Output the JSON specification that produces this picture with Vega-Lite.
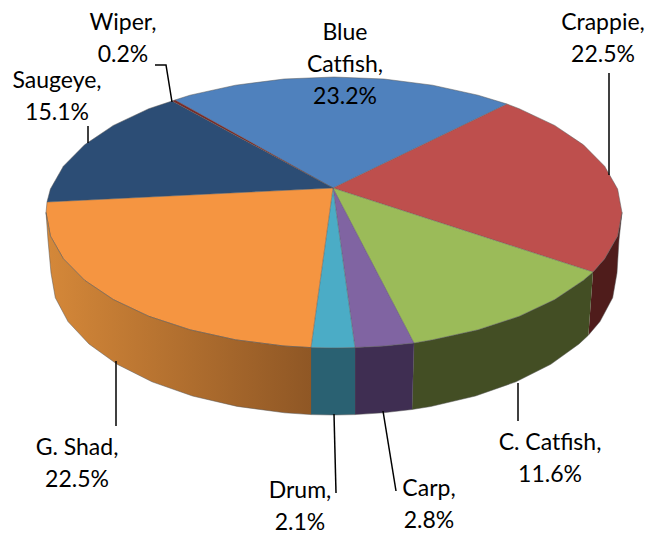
{
"$schema":"https://vega.github.io/schema/vega-lite/v6.json",
"width":652,"height":534,"padding":0,"autosize":{"type":"none"},
"background":"white",
"view":{"stroke":null},
"datasets":{
"shapes":[
{"part":"Crappie side","face":"side","x":[593,604.6,617.6,622,619,617,612.7,600,588.4],"y":[272,258.8,236,212.5,240,273,297.7,321.6,335.2]},
{"part":"C. Catfish side","face":"side","x":[593,583.4,554.6,519.2,478,432.5,414,412,430.8,475.5,516,550.8,579,588.4],"y":[272,280.3,299.6,316.3,329.8,339.8,343,409.5,406.5,396,381.8,364.3,344,335.2]},
{"part":"Carp side","face":"side","x":[414,384,355,355,383.2,412],"y":[343,346,347.6,414.6,412.8,409.5]},
{"part":"Drum side","face":"side","x":[355,334,311,311,334,355],"y":[347.6,348,347.6,414.6,415,414.6]},
{"part":"G. Shad side","face":"grad","x":[311,284,235.5,190,148.8,113.4,84.6,63.4,50.4,46,48,51,55.3,68,89,117.2,152,192.5,237.2,284.8,311],"y":[347.6,346,339.8,329.8,316.3,299.6,280.3,258.8,236,212.5,240,273,297.7,321.6,344,364.3,381.8,396,406.4,412.8,414.6]},
{"part":"Blue Catfish","face":"top","x":[333,175,190,235.5,284,334,384,432.5,478,507],"y":[188,100,95.2,85.2,79,77,79,85.2,95.2,104]},
{"part":"Crappie","face":"top","x":[333,507,519.2,554.6,583.4,604.6,617.6,622,617.6,604.6,593],"y":[188,104,108.7,125.4,144.8,166.2,189,212.5,236,258.8,272]},
{"part":"C. Catfish","face":"top","x":[333,593,583.4,554.6,519.2,478,432.5,414],"y":[188,272,280.3,299.6,316.3,329.8,339.8,343]},
{"part":"Carp","face":"top","x":[333,414,384,355],"y":[188,343,346,347.6]},
{"part":"Drum","face":"top","x":[333,355,334,311],"y":[188,347.6,348,347.6]},
{"part":"G. Shad","face":"top","x":[333,311,284,235.5,190,148.8,113.4,84.6,63.4,50.4,46,47],"y":[188,347.6,346,339.8,329.8,316.3,299.6,280.3,258.8,236,212.5,202]},
{"part":"Saugeye","face":"top","x":[333,47,50.4,63.4,84.6,113.4,148.8,172],"y":[188,202,189,166.2,144.8,125.4,108.7,101]},
{"part":"Wiper","face":"top","x":[333,172,175],"y":[188,101,100]}
],
"leaders":[
{"slice":"Saugeye","x":[88,88],"y":[126,143]},
{"slice":"Wiper","x":[155,166,172],"y":[65,65,102]},
{"slice":"Crappie","x":[609,609],"y":[73,175]},
{"slice":"G. Shad","x":[116,116],"y":[361,426]},
{"slice":"Drum","x":[334,336],"y":[414,493]},
{"slice":"Carp","x":[383,396],"y":[411,491]},
{"slice":"C. Catfish","x":[518,518],"y":[383,421]}
],
"labels":[
{"slice":"Wiper","percent":0.2,"label":"Wiper,\n0.2%","x":123,"y":23},
{"slice":"Saugeye","percent":15.1,"label":"Saugeye,\n15.1%","x":57,"y":81},
{"slice":"Blue Catfish","percent":23.2,"label":"Blue\nCatfish,\n23.2%","x":345,"y":33},
{"slice":"Crappie","percent":22.5,"label":"Crappie,\n22.5%","x":603,"y":23},
{"slice":"G. Shad","percent":22.5,"label":"G. Shad,\n22.5%","x":77,"y":448},
{"slice":"Drum","percent":2.1,"label":"Drum,\n2.1%","x":300,"y":491},
{"slice":"Carp","percent":2.8,"label":"Carp,\n2.8%","x":429,"y":489},
{"slice":"C. Catfish","percent":11.6,"label":"C. Catfish,\n11.6%","x":550,"y":443}
]
},
"encoding":{
"x":{"field":"x","type":"quantitative","scale":{"domain":[0,652],"nice":false,"zero":false},"axis":null},
"y":{"field":"y","type":"quantitative","scale":{"domain":[534,0],"nice":false,"zero":false},"axis":null}
},
"layer":[
{"data":{"name":"shapes"},
 "transform":[{"filter":"datum.face!=='grad'"},{"flatten":["x","y"]},{"window":[{"op":"row_number","as":"i"}]}],
 "mark":{"type":"line","stroke":"#555555","strokeWidth":0.7,"strokeOpacity":0.7,"interpolate":"linear"},
 "encoding":{"order":{"field":"i","type":"quantitative"},
 "fill":{"field":"part","type":"nominal","legend":null,"scale":{
  "domain":["Crappie side","C. Catfish side","Carp side","Drum side","Blue Catfish","Crappie","C. Catfish","Carp","Drum","G. Shad","Saugeye","Wiper"],
  "range":["#4F1C1B","#434E24","#3F2E52","#2A6172","#4F81BD","#BE4F4D","#9BBB59","#8064A2","#4BACC6","#F59541","#2C4D75","#772C2A"]}}}},
{"data":{"name":"shapes"},
 "transform":[{"filter":"datum.face==='grad'"},{"flatten":["x","y"]},{"window":[{"op":"row_number","as":"i"}]}],
 "mark":{"type":"line","stroke":"#555555","strokeWidth":0.7,"strokeOpacity":0.7,
  "fill":{"gradient":"linear","x1":0,"y1":0,"x2":1,"y2":0,"stops":[{"offset":0,"color":"#D58839"},{"offset":1,"color":"#8F5725"}]}},
 "encoding":{"order":{"field":"i","type":"quantitative"}}},
{"data":{"name":"leaders"},
 "transform":[{"flatten":["x","y"]},{"window":[{"op":"row_number","as":"i"}],"groupby":["slice"]}],
 "mark":{"type":"line","stroke":"#000000","strokeWidth":1.5},
 "encoding":{"detail":{"field":"slice"},"order":{"field":"i","type":"quantitative"}}},
{"data":{"name":"labels"},
 "mark":{"type":"text","font":"Lato","fontSize":23,"lineBreak":"\n","lineHeight":32,"align":"center","baseline":"middle","color":"#000000"},
 "encoding":{"text":{"field":"label"}}}
]
}
